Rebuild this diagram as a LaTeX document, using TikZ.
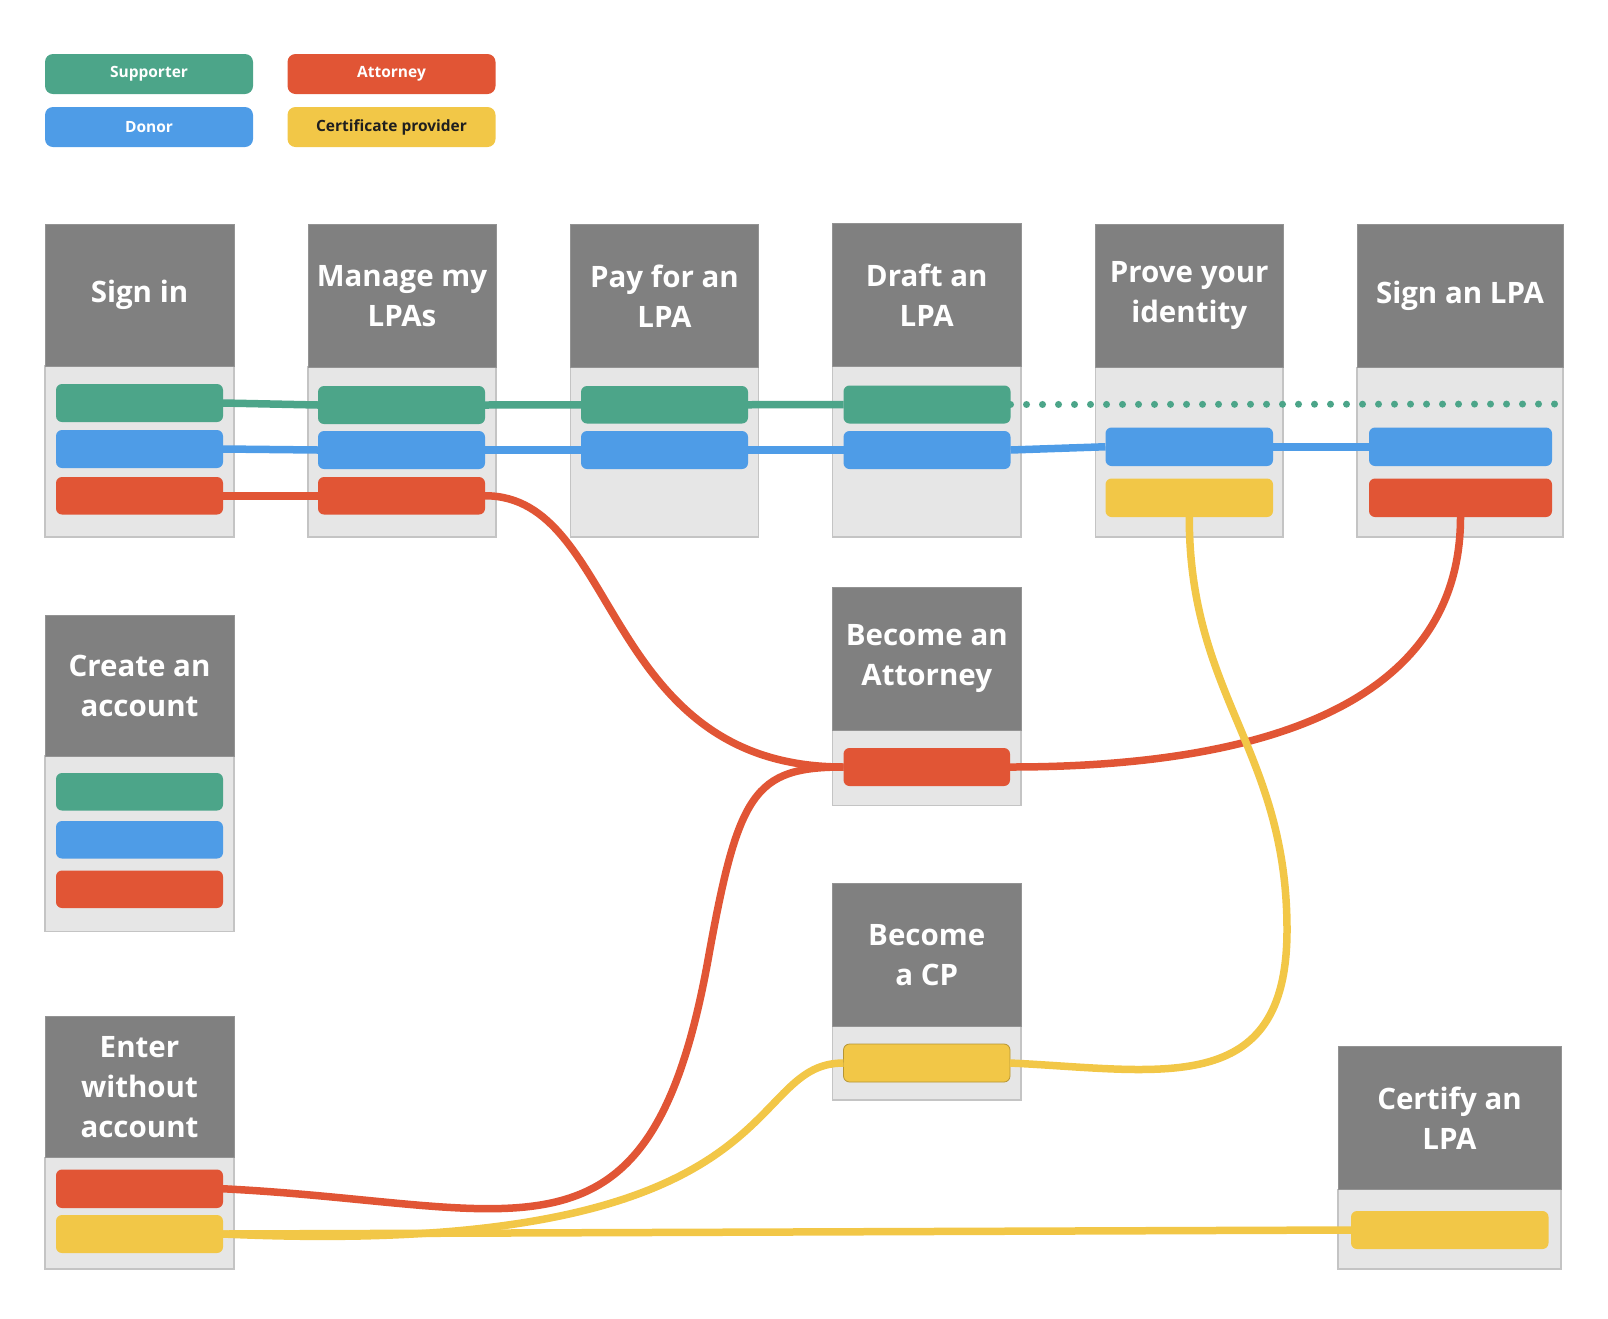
\documentclass[tikz,border=0pt]{standalone}
\usepackage{fontspec}
\setmainfont{Open Sans}
\begin{document}
\definecolor{supgreen}{HTML}{4CA589}
\definecolor{donblue}{HTML}{4E9CE7}
\definecolor{attred}{HTML}{E15535}
\definecolor{cpyellow}{HTML}{F2C747}
\definecolor{headgray}{HTML}{808080}
\definecolor{bodygray}{HTML}{E6E6E6}
\definecolor{edgegray}{HTML}{C4C4C4}
\begin{tikzpicture}[x=1pt,y=-1pt,
  stagehead/.style={fill=headgray,draw=headgray!85!white,line width=1pt,inner sep=0pt,outer sep=0pt,
    text=white,align=center,font=\fontsize{29.5}{40}\selectfont\bfseries},
  stagebody/.style={fill=bodygray,draw=edgegray,line width=1.5pt,inner sep=0pt,outer sep=0pt},
  pill/.style={rounded corners=6pt,inner sep=0pt,outer sep=0pt},
  legend/.style={rounded corners=8pt,inner sep=0pt,outer sep=0pt,minimum width=208pt,minimum height=40pt,
    anchor=north west,font=\fontsize{15.5}{18}\selectfont\bfseries,text=white},
  flow/.style={line width=7.5pt},
  dots/.style={line width=7pt,line cap=round,dash pattern=on 0pt off 16pt}]
\useasboundingbox (0,0) rectangle (1608,1318);

% stage column: name, left, top, header bottom, bottom, right, title
\newcommand\stage[7]{%
  \pgfmathsetmacro\cw{#6-#2}\pgfmathsetmacro\hh{#4-#3}\pgfmathsetmacro\bh{#5-#4}%
  \node[stagebody,minimum width=\cw pt,minimum height=\bh pt,anchor=north west] (#1-body) at (#2,#4) {};%
  \node[stagehead,minimum width=\cw pt,minimum height=\hh pt,anchor=north west] (#1-head) at (#2,#3) {#7};}
% role bar: name, colour, left, top, right, bottom
\newcommand\pill[7][]{%
  \pgfmathsetmacro\pw{#6-#4}\pgfmathsetmacro\ph{#7-#5}%
  \node[pill,fill=#3,#1,minimum width=\pw pt,minimum height=\ph pt,anchor=north west] (#2) at (#4,#5) {};}

% legend
\node[legend,fill=supgreen] (lg-sup) at (45,54) {Supporter};
\node[legend,fill=donblue] (lg-don) at (45,107) {Donor};
\node[legend,fill=attred] (lg-att) at (287.5,54) {Attorney};
\node[legend,fill=cpyellow,text=black!88] (lg-cp) at (287.5,107) {Certificate provider};

% stages
\stage{si}{45}{224.5}{366}{537}{234}{Sign in}
\stage{ma}{308}{224.5}{367}{537}{496}{Manage my\\LPAs}
\stage{pa}{570.5}{224.5}{367}{537}{758.5}{Pay for an\\LPA}
\stage{dr}{832.5}{223.5}{366.5}{537}{1021}{Draft an\\LPA}
\stage{pr}{1095.5}{224.5}{367.5}{537}{1283}{Prove your\\identity}
\stage{sn}{1357}{224.5}{367.5}{537}{1563}{Sign an LPA}
\stage{cr}{45}{615.5}{756}{931.5}{234}{Create an\\account}
\stage{en}{45}{1016}{1157.5}{1269}{234}{Enter\\without\\account}
\stage{at}{832.5}{587}{730}{805.5}{1021}{Become an\\Attorney}
\stage{cp}{832.5}{883.5}{1026.5}{1100}{1021}{Become\\a CP}
\stage{ce}{1338}{1046}{1189.5}{1269}{1561}{Certify an\\LPA}

% role bars
\pill{sig}{supgreen}{56}{384}{223}{422}
\pill{sib}{donblue}{56}{430}{223}{468}
\pill{sir}{attred}{56}{477}{223}{514.5}
\pill{mag}{supgreen}{318}{386}{485}{424}
\pill{mab}{donblue}{318}{431}{485}{469}
\pill{mar}{attred}{318}{477}{485}{514.5}
\pill{pag}{supgreen}{581}{386}{748}{423.5}
\pill{pab}{donblue}{581}{431}{748}{469}
\pill{drg}{supgreen}{843.5}{385.5}{1010.5}{423.5}
\pill{drb}{donblue}{843.5}{431}{1010.5}{469}
\pill{prb}{donblue}{1105.5}{427.5}{1273}{466}
\pill{pry}{cpyellow}{1105.5}{478.5}{1273}{517}
\pill{snb}{donblue}{1369}{427.5}{1552}{466}
\pill{snr}{attred}{1369}{478.5}{1552}{517}
\pill{crg}{supgreen}{56}{773}{223}{810.5}
\pill{crb}{donblue}{56}{821}{223}{858.5}
\pill{crr}{attred}{56}{870.5}{223}{908}
\pill{enr}{attred}{56}{1169.5}{223}{1208}
\pill{eny}{cpyellow}{56}{1215}{223}{1253}
\pill{atr}{attred}{843.5}{748}{1010}{786}
\pill[draw=cpyellow!75!black,line width=0.8pt]{cpy}{cpyellow}{843.5}{1044}{1010}{1082}
\pill{cey}{cpyellow}{1351}{1211}{1548.5}{1249}

\coordinate (dotend) at (1555,404);
\coordinate (j1) at (708,960);
\coordinate (j2) at (1287,930);

% supporter journey
\draw[flow,supgreen] (sig.east) -- (mag.west);
\draw[flow,supgreen] (mag.east) -- (pag.west);
\draw[flow,supgreen] (pag.east) -- (drg.west);
\draw[dots,supgreen] (drg.east) -- (dotend);

% donor journey
\draw[flow,donblue] (sib.east) -- (mab.west);
\draw[flow,donblue] (mab.east) -- (pab.west);
\draw[flow,donblue] (pab.east) -- (drb.west);
\draw[flow,donblue] (drb.east) -- (prb.west);
\draw[flow,donblue] (prb.east) -- (snb.west);

% attorney journey
\draw[flow,attred] (sir.east) -- (mar.west);
\draw[flow,attred] (mar.east) .. controls +(135,0) and +(-243,0) .. (atr.west);
\draw[flow,attred] (snr.south) .. controls +(0,193) and +(240,0) .. (atr.east);
\draw[flow,attred] (enr.east) .. controls +(300,15) and +(-59,325) .. (j1)
  .. controls +(30,-167) and +(-90,0) .. (atr.west);

% certificate provider journey
\draw[flow,cpyellow] (pry.south) .. controls +(0,180) and +(0,-180) .. (j2)
  .. controls +(0,170) and +(150,7) .. (cpy.east);
\draw[flow,cpyellow] (eny.east) .. controls +(577,26) and +(-105,0) .. (cpy.west);
\draw[flow,cpyellow] (eny.east) -- (cey.west);
\end{tikzpicture}
\end{document}
